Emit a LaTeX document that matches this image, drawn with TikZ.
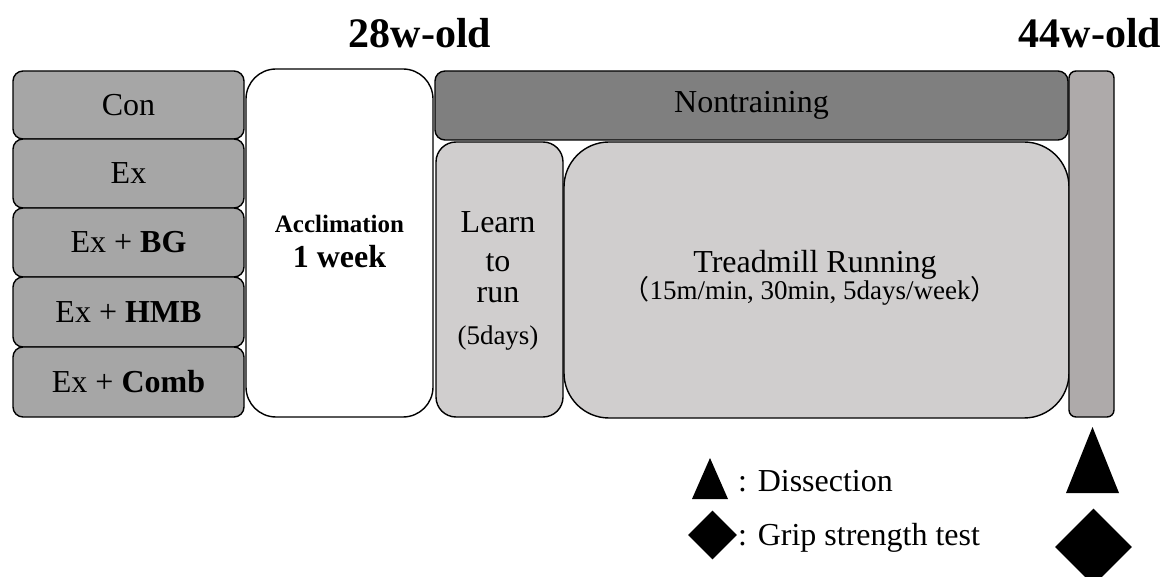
\documentclass[tikz,border=0pt]{standalone}
\usepackage{fontspec}
\setmainfont{Liberation Serif}
\newfontfamily\cjk{Noto Sans CJK SC}
\usetikzlibrary{shapes.geometric}
\definecolor{grpgray}{HTML}{A6A6A6}
\definecolor{nongray}{HTML}{7F7F7F}
\definecolor{rungray}{HTML}{D0CECE}
\definecolor{bargray}{HTML}{AEAAAA}
\tikzset{
  box/.style={draw=black, line width=1.4pt, inner sep=0pt, rounded corners=#1},
  box/.default=10pt,
  big/.style={font=\fontsize{32}{36}\selectfont},
  mid/.style={font=\fontsize{27}{30}\selectfont},
  lbl/.style={inner sep=0pt, anchor=base},
  title/.style={font=\fontsize{42}{46}\selectfont\bfseries, inner sep=0pt, anchor=base},
  marker/.style={fill=black, draw=none},
}
\begin{document}
\begin{tikzpicture}[x=1pt,y=-1pt]
\useasboundingbox (0,0) rectangle (1168,577);
% titles
\node[title] (t28) at (420,48) {28w-old};
\node[title] (t44) at (1090,48) {44w-old};
% group boxes
\node[box, fill=grpgray, big, minimum width=231pt, minimum height=68pt] (con) at (128.5,105) {Con};
\node[box, fill=grpgray, big, minimum width=231pt, minimum height=69pt] (ex) at (128.5,173.5) {Ex};
\node[box, fill=grpgray, big, minimum width=231pt, minimum height=69pt] (bg) at (128.5,242.5) {Ex + \textbf{BG}};
\node[box, fill=grpgray, big, minimum width=231pt, minimum height=70pt] (hmb) at (128.5,312) {Ex + \textbf{HMB}};
\node[box, fill=grpgray, big, minimum width=231pt, minimum height=70pt] (comb) at (128.5,382) {Ex + \textbf{Comb}};
% acclimation
\node[box=30pt, fill=white, minimum width=187pt, minimum height=348pt] (acc) at (339.5,243) {};
\node[lbl, font=\fontsize{25}{28}\selectfont\bfseries] (acc1) at (339.5,233) {Acclimation};
\node[lbl, font=\fontsize{32}{36}\selectfont\bfseries] (acc2) at (339.5,268) {1 week};
% nontraining
\node[box, fill=nongray, big, minimum width=633pt, minimum height=69pt] (non) at (751.5,105.5) {Nontraining};
% learn to run
\node[box=20pt, fill=rungray, minimum width=127pt, minimum height=275pt] (learn) at (499.5,279.5) {};
\node[lbl, big] (l1) at (498,233) {Learn};
\node[lbl, big] (l2) at (498,272) {to};
\node[lbl, big] (l3) at (498,303) {run};
\node[lbl, mid] (l4) at (498,345) {(5days)};
% treadmill
\node[box=45pt, fill=rungray, minimum width=505pt, minimum height=276pt] (tread) at (816.5,280) {};
\node[lbl, big] (tr1) at (815,273) {Treadmill Running};
\node[lbl, mid] (tr2) at (810,300) {{\cjk （}15m/min, 30min, 5days/week{\cjk ）}};
% end bar
\node[box=7pt, fill=bargray, minimum width=45pt, minimum height=346pt] (bar) at (1091.5,244) {};
% legend
\fill[marker] (692,499) -- (710,458) -- (728,499) -- cycle;
\node[lbl, big, anchor=base west] (diss) at (738,491) {: Dissection};
\node[marker, diamond, inner sep=0pt, minimum width=49pt, minimum height=49pt] (dia) at (712.5,535) {};
\node[lbl, big, anchor=base west] (grip) at (738,545) {: Grip strength test};
% markers at 44w-old
\fill[marker] (1066,493) -- (1092.5,427) -- (1119,493) -- cycle;
\node[marker, diamond, inner sep=0pt, minimum width=77pt, minimum height=77pt] (diabig) at (1093.5,547) {};
\end{tikzpicture}
\end{document}
